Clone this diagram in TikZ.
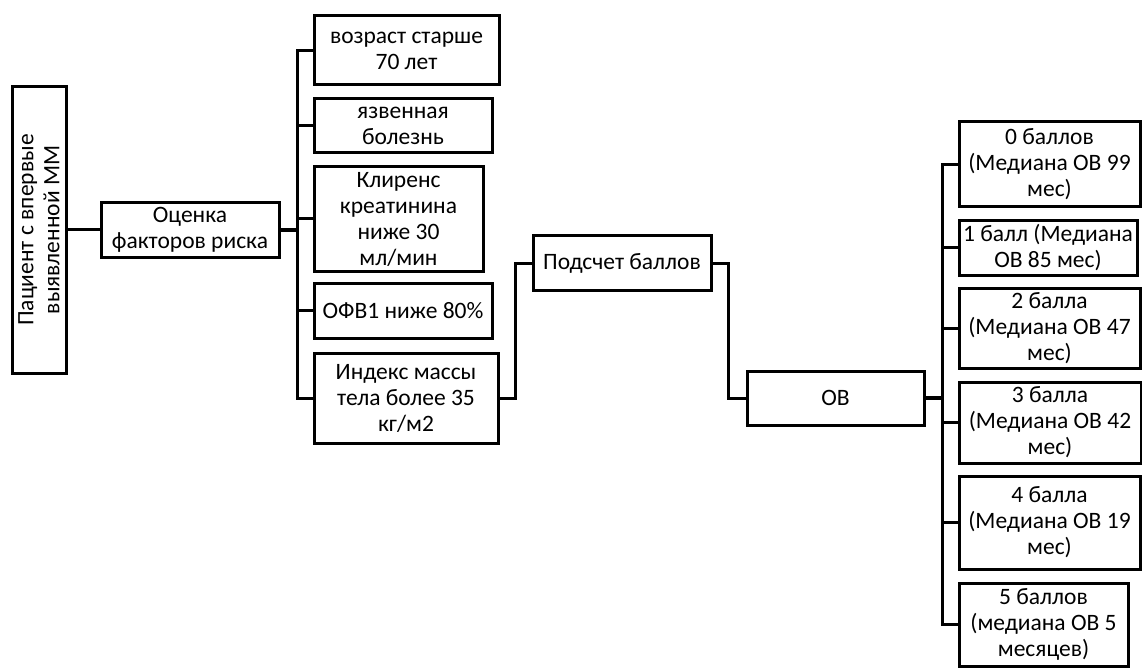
\documentclass[tikz,border=0pt]{standalone}
\usepackage{fontspec}
\setmainfont{Carlito}
\begin{document}
\begin{tikzpicture}[x=1pt,y=-1pt,
  box/.style={draw, line width=3pt, inner sep=0pt, align=center, font=\fontsize{23.5}{26}\selectfont},
  conn/.style={line width=3pt}]
\useasboundingbox (0,0) rectangle (1142,668);
% left part
\node[box, rotate=90, minimum width=286, minimum height=54] (pat) at (39,230) {Пациент с впервые\\выявленной ММ};
\node[box, minimum width=178, minimum height=54] (ocn) at (190,230) {Оценка\\факторов риска};
\node[box, minimum width=185, minimum height=69] (b1) at (406.5,50.5) {возраст старше\\70 лет};
\node[box, minimum width=178, minimum height=54] (b2) at (403,126) {язвенная\\болезнь};
\node[box, minimum width=169, minimum height=104] (b3) at (398.5,219) {Клиренс\\креатинина\\ниже 30\\мл/мин};
\node[box, minimum width=178, minimum height=55] (b4) at (403,310.5) {ОФВ1 ниже 80\%};
\node[box, minimum width=184, minimum height=90] (b5) at (406,398) {Индекс массы\\тела более 35\\кг/м2};
\node[box, minimum width=178, minimum height=54] (pod) at (622,263) {Подсчет баллов};
\node[box, minimum width=177, minimum height=54] (ob) at (835.5,398) {ОВ};
% right part
\node[box, minimum width=181, minimum height=85] (r0) at (1049.5,164.5) {0 баллов\\(Медиана ОВ 99\\мес)};
\node[box, minimum width=178, minimum height=54] (r1) at (1048,248) {1 балл (Медиана\\ОВ 85 мес)};
\node[box, minimum width=181, minimum height=80] (r2) at (1049.5,328) {2 балла\\(Медиана ОВ 47\\мес)};
\node[box, minimum width=182, minimum height=81] (r3) at (1050,422.5) {3 балла\\(Медиана ОВ 42\\мес)};
\node[box, minimum width=181, minimum height=93] (r4) at (1049.5,522.5) {4 балла\\(Медиана ОВ 19\\мес)};
\node[box, minimum width=169, minimum height=83] (r5) at (1043.5,624.5) {5 баллов\\(медиана ОВ 5\\месяцев)};
% coordinates
\coordinate (bl) at (297,230);
\coordinate (j1) at (515,0);
\coordinate (j2) at (728,0);
\coordinate (br) at (942,398);
% connectors
\draw[conn] (pat.south) -- (ocn.west);
\draw[line width=4.5pt] (ocn.east) -- (bl);
\draw[conn] (b1.west) -| (bl) |- (b5.west);
\draw[conn] (b2.west) -- (b2.west -| bl);
\draw[conn] (b3.west) -- (b3.west -| bl);
\draw[conn] (b4.west) -- (b4.west -| bl);
\draw[conn] (b5.east) -- (b5.east -| j1) |- (pod.west);
\draw[conn] (pod.east) -- (pod.east -| j2) |- (ob.west);
\draw[line width=4.5pt] (ob.east) -- (br);
\draw[conn] (r0.west) -| (br) |- (r5.west);
\draw[conn] (r1.west) -- (r1.west -| br);
\draw[conn] (r2.west) -- (r2.west -| br);
\draw[conn] (r3.west) -- (r3.west -| br);
\draw[conn] (r4.west) -- (r4.west -| br);
\end{tikzpicture}
\end{document}
